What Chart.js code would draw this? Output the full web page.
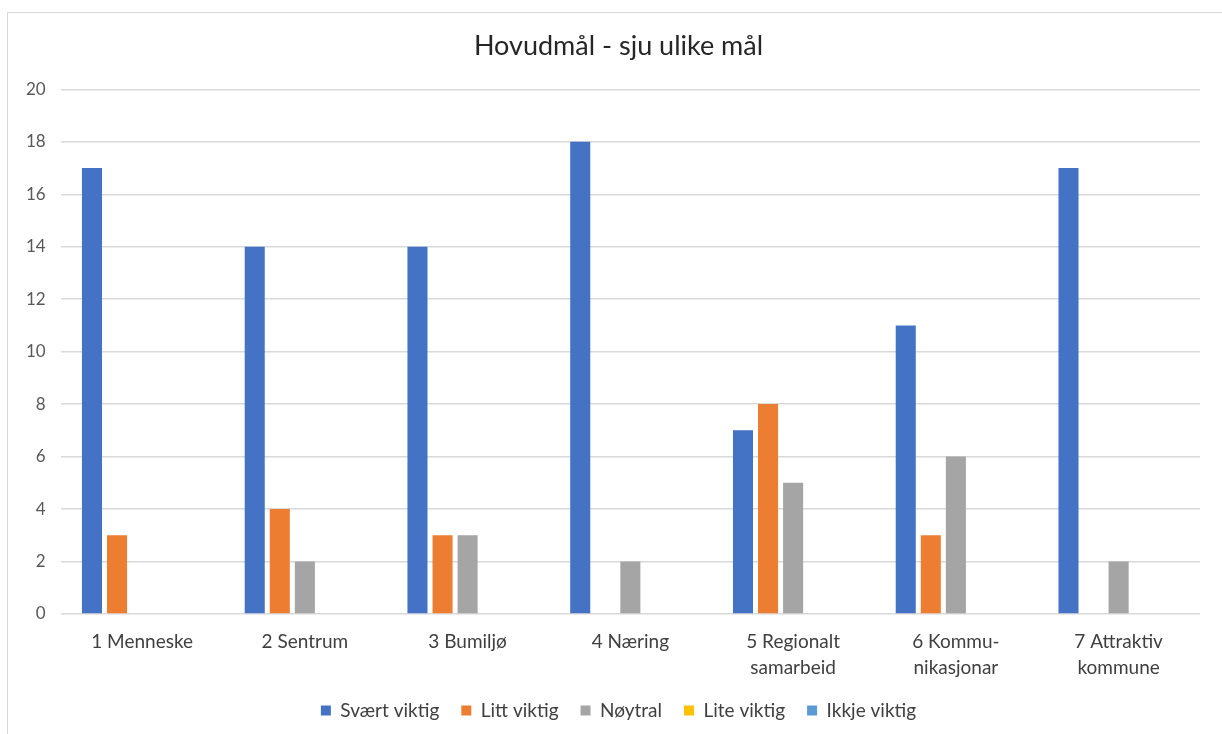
<!DOCTYPE html>
<html>
<head>
<meta charset="utf-8">
<script src="https://cdn.jsdelivr.net/npm/chart.js@4.4.1/dist/chart.umd.min.js"></script>
<style>
  html, body { margin: 0; padding: 0; background: #ffffff; overflow: hidden; }
  #frame { position: absolute; left: 7px; top: 12px; width: 1230px; height: 740px; border: 1px solid #d9d9d9; box-sizing: border-box; }
  #wrap { position: absolute; left: 0; top: 0; width: 1222px; height: 734px; }
</style>
</head>
<body>
<div id="frame"></div>
<div id="wrap"><canvas id="c" width="1222" height="734"></canvas></div>
<script>
const categories = [
  "1 Menneske",
  "2 Sentrum",
  "3 Bumiljø",
  "4 Næring",
  ["5 Regionalt", "samarbeid"],
  ["6 Kommu-", "nikasjonar"],
  ["7 Attraktiv", "kommune"]
];
const seriesNames = ["Svært viktig", "Litt viktig", "Nøytral", "Lite viktig", "Ikkje viktig"];
const svaertViktig = [17, 14, 14, 18, 7, 11, 17];
const littViktig   = [3, 4, 3, 0, 8, 3, 0];
const noytral      = [0, 2, 3, 2, 5, 6, 2];
const liteViktig   = [0, 0, 0, 0, 0, 0, 0];
const ikkjeViktig  = [0, 0, 0, 0, 0, 0, 0];
const colors = ["#4472c4", "#ed7d31", "#a5a5a5", "#ffc000", "#5b9bd5"];
const seriesValues = [svaertViktig, littViktig, noytral, liteViktig, ikkjeViktig];

const FONT = "Lato, 'Liberation Sans', sans-serif";

// Excel centres title and legend on the whole frame, not on the plot
const centreShift = {
  id: "centreShift",
  afterLayout(chart) {
    const d = 13;
    [chart.titleBlock, chart.legend].forEach(b => {
      if (b) { b.left += d; b.right += d; }
    });
  }
};

new Chart(document.getElementById("c"), {
  type: "bar",
  data: {
    labels: categories,
    datasets: seriesNames.map((n, i) => ({
      label: n,
      data: seriesValues[i],
      backgroundColor: colors[i],
      borderWidth: 0,
      barPercentage: 0.8,
      categoryPercentage: 0.77
    }))
  },
  plugins: [centreShift],
  options: {
    responsive: false,
    animation: false,
    layout: { padding: { left: 11, right: 22, top: 30, bottom: 4 } },
    plugins: {
      title: {
        display: true,
        text: "Hovudmål - sju ulike mål",
        color: "#262626",
        font: { family: FONT, size: 27, weight: "normal" },
        padding: { top: 0, bottom: 27 }
      },
      legend: {
        position: "bottom",
        labels: {
          color: "#404040",
          font: { family: FONT, size: 19 },
          boxWidth: 10,
          boxHeight: 10,
          padding: 22
        }
      },
      tooltip: { enabled: false }
    },
    scales: {
      x: {
        grid: { display: false },
        border: { display: false },
        ticks: {
          color: "#404040",
          font: { family: FONT, size: 19, lineHeight: 1.37 },
          maxRotation: 0,
          autoSkip: false,
          padding: 7
        },
        afterFit: (s) => { s.height -= 9; }
      },
      y: {
        min: 0,
        max: 20,
        ticks: {
          stepSize: 2,
          color: "#595959",
          font: { family: FONT, size: 17 },
          padding: 15
        },
        grid: { color: "#d9d9d9", lineWidth: 1.5, drawTicks: false },
        border: { display: false }
      }
    }
  }
});
</script>
</body>
</html>
